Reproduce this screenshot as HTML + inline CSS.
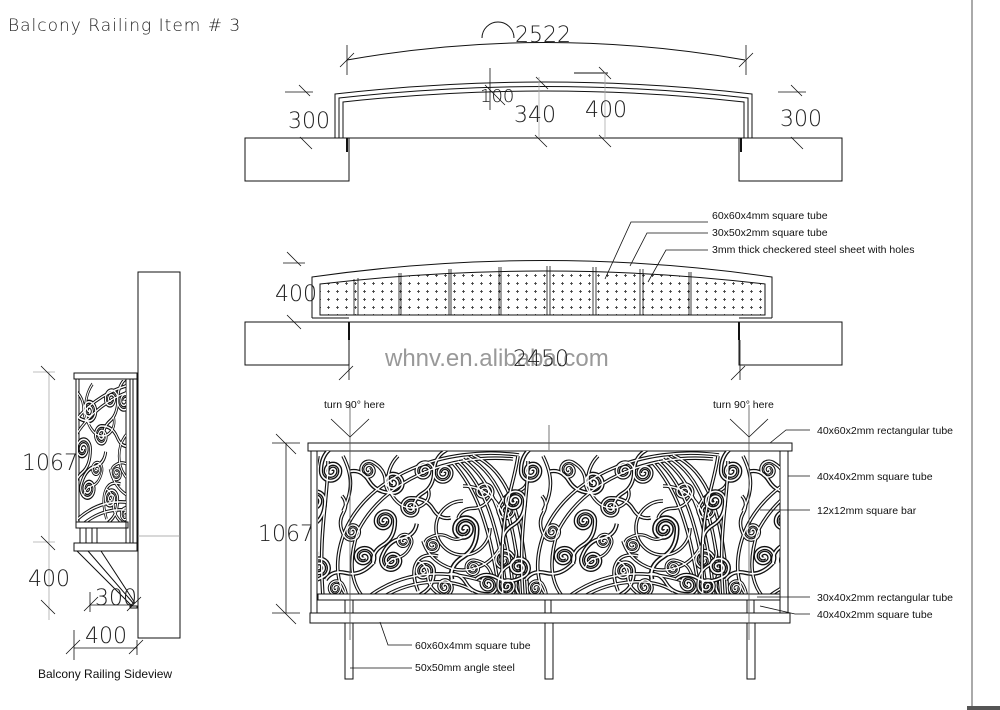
<!DOCTYPE html>
<html><head><meta charset="utf-8"><style>
html,body{margin:0;padding:0;background:#fff}
svg{display:block}
.c{font-family:"DejaVu Sans","Liberation Sans",sans-serif;font-weight:200;fill:#222}
.l{font-family:"Liberation Sans",sans-serif;font-size:10.5px;fill:#111}
</style></head><body>
<svg width="1000" height="710" viewBox="0 0 1000 710" xmlns="http://www.w3.org/2000/svg">
<defs>
 <pattern id="dots" width="9" height="8" patternUnits="userSpaceOnUse">
  <path d="M4.5,2v3M3,3.5h3" stroke="#333" stroke-width="0.8"/>
 </pattern>
 <path id="sp" d="M2,0 A2,2 0 0,1 -2,0 A4,4 0 0,1 6,0 A6,6 0 0,1 -6,0 A8,8 0 0,1 10,0 Q10,14 0,20 Q-10,26 -8,36"/>
 <g id="scr">
  <g fill="none">
   <path d="M196,4 C120,-6 45,25 22,80 C10,110 14,135 25,146"/>
   <path d="M190,8 C125,2 60,30 35,80 C25,110 28,132 40,146"/>
   <path d="M150,4 C185,20 200,60 205,146"/>
   <path d="M145,6 C178,25 192,65 198,146"/>
   <path d="M140,8 C170,30 184,70 191,146"/>
   <path d="M135,10 C162,35 176,75 184,146"/>
   <path d="M130,12 C155,40 168,80 177,146"/>
   <path d="M140,35 A42,42 0 1,1 100,90 M140,50 A27,27 0 1,0 167,77"/>
   <path d="M45,146 C80,120 120,118 160,130"/>
   <path d="M60,146 C90,128 130,126 150,140"/>
   <path d="M75,5 C60,20 62,45 80,55 C95,62 110,50 105,38"/>
   <path d="M95,140 C85,115 95,100 115,105"/>
   <path d="M20,5 C30,25 30,40 20,60"/>
   <use href="#sp" transform="translate(140,78) scale(1.4)"/>
   <use href="#sp" transform="translate(70,30) rotate(90) scale(1.2)"/>
   <use href="#sp" transform="translate(100,20) scale(1.1)"/>
   <use href="#sp" transform="translate(122,22) rotate(180) scale(1.1)"/>
   <use href="#sp" transform="translate(60,70) scale(1.2)"/>
   <use href="#sp" transform="translate(88,58) rotate(-90) scale(1.1)"/>
   <use href="#sp" transform="translate(40,105) rotate(45) scale(1.2)"/>
   <use href="#sp" transform="translate(70,110) rotate(200) scale(1.2)"/>
   <use href="#sp" transform="translate(100,120) scale(1.1)"/>
   <use href="#sp" transform="translate(122,135) rotate(120) scale(1)"/>
   <use href="#sp" transform="translate(180,110) rotate(-40) scale(1.1)"/>
   <use href="#sp" transform="translate(165,132) rotate(90) scale(1.1)"/>
   <use href="#sp" transform="translate(10,20) rotate(180) scale(1.2)"/>
   <use href="#sp" transform="translate(-10,50) scale(1.2)"/>
   <use href="#sp" transform="translate(-5,115) rotate(60) scale(1.2)"/>
   <use href="#sp" transform="translate(-15,135) rotate(180) scale(1)"/>
   <use href="#sp" transform="translate(160,40) rotate(30) scale(1)"/>
   <use href="#sp" transform="translate(45,20) rotate(-60) scale(1)"/>
   <use href="#sp" transform="translate(30,80) rotate(150) scale(1)"/>
   <use href="#sp" transform="translate(110,95) rotate(-120) scale(0.9)"/>
   <use href="#sp" transform="translate(185,60) rotate(200) scale(1)"/>
   <use href="#sp" transform="translate(80,90) rotate(20) scale(0.9)"/>
   <use href="#sp" transform="translate(150,118) rotate(-80) scale(0.9)"/>
   <use href="#sp" transform="translate(12,138) rotate(-30) scale(0.9)"/>
   <path d="M-5,5 C-10,40 -25,60 -20,146"/>
   <path d="M5,10 C5,50 -5,80 0,146"/>
  </g>
 </g>
 <g id="scrolls">
  <use href="#scr" stroke="#111" stroke-width="3.6"/>
  <use href="#scr" stroke="#fff" stroke-width="1.4"/>
 </g>
 <clipPath id="pc"><rect x="318" y="451" width="462" height="143"/></clipPath>
 <clipPath id="sc"><rect x="78" y="380" width="48" height="142"/></clipPath>
</defs>

<g stroke="#111" fill="none" stroke-width="1">
<text x="8" y="31" class="c" font-size="17" letter-spacing="1" stroke="none">Balcony Railing Item # 3</text>

<!-- Top view -->
<path d="M347,60 Q545,25 745,60"/>
<path d="M347,45V75M746,45V75M340,67l14,-14M739,67l14,-14" stroke-width="0.8"/>
<path d="M482,38 A16,16 0 0,1 514,38"/>
<text x="515" y="42" class="c" font-size="22" stroke="none">2522</text>
<path d="M574,73H608"/>
<path d="M335,138V94 Q545,70 752,94V138"/>
<path d="M339,138V98 Q545,75 748,98V138"/>
<path d="M343,138V102 Q545,80 744,102V138"/>
<rect x="245" y="138" width="104" height="43"/>
<rect x="739" y="138" width="103" height="43"/>
<path d="M349,138H739"/>
<path d="M347,138v14M741,138v14" stroke-width="2"/>
<g stroke-width="0.8">
<path d="M285,92H313M299,85l11,11M300,137l12,12M778,92H806M791,85l11,11M791,137l12,12"/>
<path d="M490,68V110M485,85l20,20M536,77l12,12M535,135l12,12M599,67l12,12M599,135l12,12"/>
<path d="M539,77V138M605,72V138" stroke="#aaa"/>
</g>
<text x="288" y="128" class="c" font-size="22" stroke="none">300</text>
<text x="480" y="102" class="c" font-size="18" stroke="none">100</text>
<text x="514" y="122" class="c" font-size="22" stroke="none">340</text>
<text x="585" y="117" class="c" font-size="22" stroke="none">400</text>
<text x="780" y="126" class="c" font-size="22" stroke="none">300</text>

<!-- Plan view 2 -->
<path d="M312,318V277 Q545,244 772,277V318"/>
<path d="M320,284 Q545,258 765,284V315H320Z" fill="url(#dots)" stroke="none"/>
<path d="M320,315V284 Q545,258 765,284V315Z"/>
<g stroke-width="0.8">
<path d="M354,315V279M358,315V278M399,315V273M401,315V273M449,315V269M451,315V269M499,315V267M501,315V267M547,315V266M550,315V266M593,315V267M596,315V267M640,315V269M643,315V269M689,315V272M691,315V272"/>
</g>
<rect x="245" y="322" width="104" height="43"/>
<rect x="739" y="322" width="103" height="43"/>
<path d="M349,322H739"/>
<path d="M349,322v18M739,322v18" stroke-width="2"/>
<path d="M312,318H349M739,318H772"/>
<g stroke-width="0.8">
<path d="M283,263H305M287,252l14,14M287,315l14,14M349,340V380M740,340V380M339,380l14,-14M731,380l14,-14"/>
<path d="M605,279 L631,222H708M630,266 L647,233H708M648,282 L666,250H708"/>
</g>
<text x="275" y="301" class="c" font-size="22" stroke="none">400</text>
<text x="385" y="366" font-family="Liberation Sans,sans-serif" font-size="24" fill="#999" stroke="none">whnv.en.alibaba.com</text>
<text x="513" y="366" class="c" font-size="22" stroke="none">2450</text>
<text x="712" y="219" class="l" stroke="none">60x60x4mm square tube</text>
<text x="712" y="236" class="l" stroke="none">30x50x2mm square tube</text>
<text x="712" y="253" class="l" stroke="none">3mm thick checkered steel sheet with holes</text>

<!-- Front view -->
<rect x="308" y="443" width="484" height="8"/>
<rect x="311" y="451" width="6" height="162"/>
<rect x="780" y="451" width="8" height="162"/>
<g clip-path="url(#pc)">
 <use href="#scrolls" transform="translate(323,451)"/>
 <use href="#scrolls" transform="translate(523,451)"/>
 <use href="#scrolls" transform="translate(723,451)"/>
</g>
<rect x="318" y="594" width="462" height="6"/>
<rect x="310" y="613" width="480" height="10"/>
<rect x="345" y="600" width="8" height="13"/>
<rect x="545" y="600" width="6" height="13"/>
<rect x="747" y="600" width="7" height="13"/>
<rect x="345" y="623" width="8" height="56"/>
<rect x="545" y="623" width="8" height="56"/>
<rect x="747" y="623" width="8" height="56"/>
<g stroke-width="0.8">
<path d="M350,405V640M749,405V640M549,425V450" stroke="#555"/>
<path d="M331,419L350,437L369,419M730,419L749,437L768,419"/>
<path d="M272,443H300M272,613H300M286,443V613M276,434l20,20M276,604l20,20"/>
<path d="M770,443 L786,430H810M788,476H810M760,510H810M757,597H810" />
<path d="M760,606 L795,614H810"/>
<path d="M380,622 L388,645H412M350,668H412"/>
</g>
<text x="324" y="408" class="l" stroke="none">turn 90° here</text>
<text x="713" y="408" class="l" stroke="none">turn 90° here</text>
<text x="258" y="541" class="c" font-size="22" stroke="none">1067</text>
<text x="817" y="434" class="l" stroke="none">40x60x2mm rectangular tube</text>
<text x="817" y="480" class="l" stroke="none">40x40x2mm square tube</text>
<text x="817" y="514" class="l" stroke="none">12x12mm square bar</text>
<text x="817" y="601" class="l" stroke="none">30x40x2mm rectangular tube</text>
<text x="817" y="618" class="l" stroke="none">40x40x2mm square tube</text>
<text x="415" y="649" class="l" stroke="none">60x60x4mm square tube</text>
<text x="415" y="671" class="l" stroke="none">50x50mm angle steel</text>

<!-- Side view -->
<rect x="138" y="272" width="42" height="366"/>
<path d="M138,536H180" stroke="#999" stroke-width="0.8"/>
<rect x="74" y="373" width="63" height="6"/>
<rect x="76" y="379" width="3" height="143"/>
<rect x="126" y="379" width="4" height="164"/>
<rect x="133" y="379" width="4" height="164"/>
<g clip-path="url(#sc)">
 <use href="#scrolls" transform="translate(40,379) scale(0.7,1)"/>
</g>
<rect x="76" y="522" width="52" height="6"/>
<path d="M80,528V543M86,528V543M92,528V543M97,528V543"/>
<rect x="74" y="543" width="63" height="8"/>
<path d="M77,551L132,606M88,551L134,604M101,551L135,603M130,606h7v2h-7z"/>
<g stroke-width="0.8">
<path d="M33,372H55M33,542H55M49,372V620" stroke="#aaa"/>
<path d="M41,366l14,14M41,536l14,14M41,600l14,14"/>
<path d="M90,605H133M90,592V612M84,611l14,-14M127,611l14,-14M74,648H137M74,630V660M137,640V655M66,654l14,-14M129,654l14,-14"/>
</g>
<text x="22" y="470" class="c" font-size="22" stroke="none">1067</text>
<text x="28" y="586" class="c" font-size="22" stroke="none">400</text>
<text x="95" y="605" class="c" font-size="22" stroke="none">300</text>
<text x="85" y="643" class="c" font-size="22" stroke="none">400</text>
<text x="38" y="678" font-family="Liberation Sans,sans-serif" font-size="12" fill="#111" stroke="none">Balcony Railing Sideview</text>

<path d="M972,0V708" stroke="#555"/>
<rect x="967" y="706" width="33" height="4" fill="#555" stroke="none"/>
</g>
</svg>
</body></html>
